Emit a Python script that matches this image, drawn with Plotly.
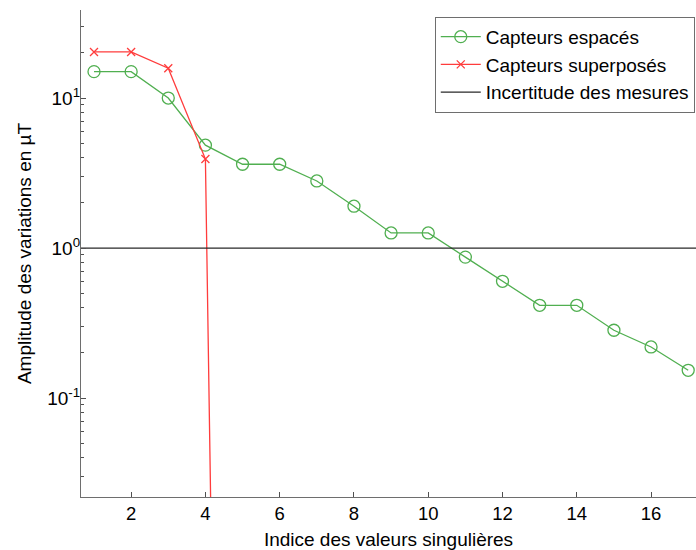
import plotly.graph_objects as go

# Data
indices = list(range(1, 18))
capteurs_espaces = [15, 15, 10, 4.85, 3.62, 3.62, 2.8, 1.9, 1.26, 1.26, 0.87, 0.6, 0.415, 0.415, 0.283, 0.219, 0.153]
capteurs_superposes = [20.3, 20.3, 15.8, 3.92, 3e-16, 3e-16, 3e-16, 3e-16, 3e-16, 3e-16, 3e-16, 3e-16, 3e-16, 3e-16, 3e-16, 3e-16, 3e-16]
incertitude = 1.0

x_range = [0.65, 17.21]
y_range = [-1.66, 1.587]

ytick_vals = [0.1, 1, 10]
ytick_text = ["10<sup>-1</sup>", "10<sup>0</sup>", "10<sup>1</sup>"]
minor_vals = [m * 10 ** e for e in (-2, -1, 0, 1) for m in range(2, 10)]

green = "rgb(80,175,80)"
red = "rgb(255,60,60)"
font = "Liberation Sans, Arial, sans-serif"

fig = go.Figure()
fig.add_trace(go.Scatter(
    x=indices, y=capteurs_espaces, mode="lines+markers", name="Capteurs espacés",
    line=dict(color=green, width=1.3),
    marker=dict(symbol="circle-open", size=12, color=green, line=dict(width=1.3)),
))
fig.add_trace(go.Scatter(
    x=indices, y=capteurs_superposes, mode="lines+markers", name="Capteurs superposés",
    line=dict(color=red, width=1.3),
    marker=dict(symbol="x-thin-open", size=8, color=red, line=dict(width=1.3, color=red)),
))
fig.add_trace(go.Scatter(
    x=x_range, y=[incertitude, incertitude], mode="lines", name="Incertitude des mesures",
    line=dict(color="rgb(40,40,40)", width=1.2),
))

fig.update_layout(
    width=696, height=550,
    margin=dict(l=81, r=0, t=10, b=53, autoexpand=False),
    paper_bgcolor="white", plot_bgcolor="white",
    font=dict(family=font, size=19, color="black"),
    showlegend=True,
    legend=dict(
        x=0.998, y=0.986, xanchor="right", yanchor="top",
        bordercolor="rgb(110,110,110)", borderwidth=1, bgcolor="white",
        font=dict(size=19), tracegroupgap=0, itemwidth=40,
    ),
)
fig.update_xaxes(
    range=x_range, dtick=2, tick0=0, ticks="inside", ticklen=5,
    tickcolor="rgb(80,80,80)", showline=True, linecolor="rgb(110,110,110)", linewidth=1.2,
    showgrid=False, zeroline=False, automargin=False,
    title=dict(text="Indice des valeurs singulières", font=dict(size=19), standoff=10),
    tickfont=dict(size=18.5),
)
fig.update_yaxes(
    type="log", range=y_range, tickvals=ytick_vals, ticktext=ytick_text,
    ticks="inside", ticklen=5, tickcolor="rgb(80,80,80)",
    minor=dict(tickvals=minor_vals, ticks="inside", ticklen=3, tickcolor="rgb(80,80,80)", showgrid=False),
    showline=True, linecolor="rgb(110,110,110)", linewidth=1.2,
    showgrid=False, zeroline=False, automargin=False, ticklabelstandoff=-4,
    title=dict(text="Amplitude des variations en µT", font=dict(size=19), standoff=10),
    tickfont=dict(size=19),
)

fig.write_html("out.html", post_script="document.body.style.margin='0';",
               config={"displayModeBar": False})
